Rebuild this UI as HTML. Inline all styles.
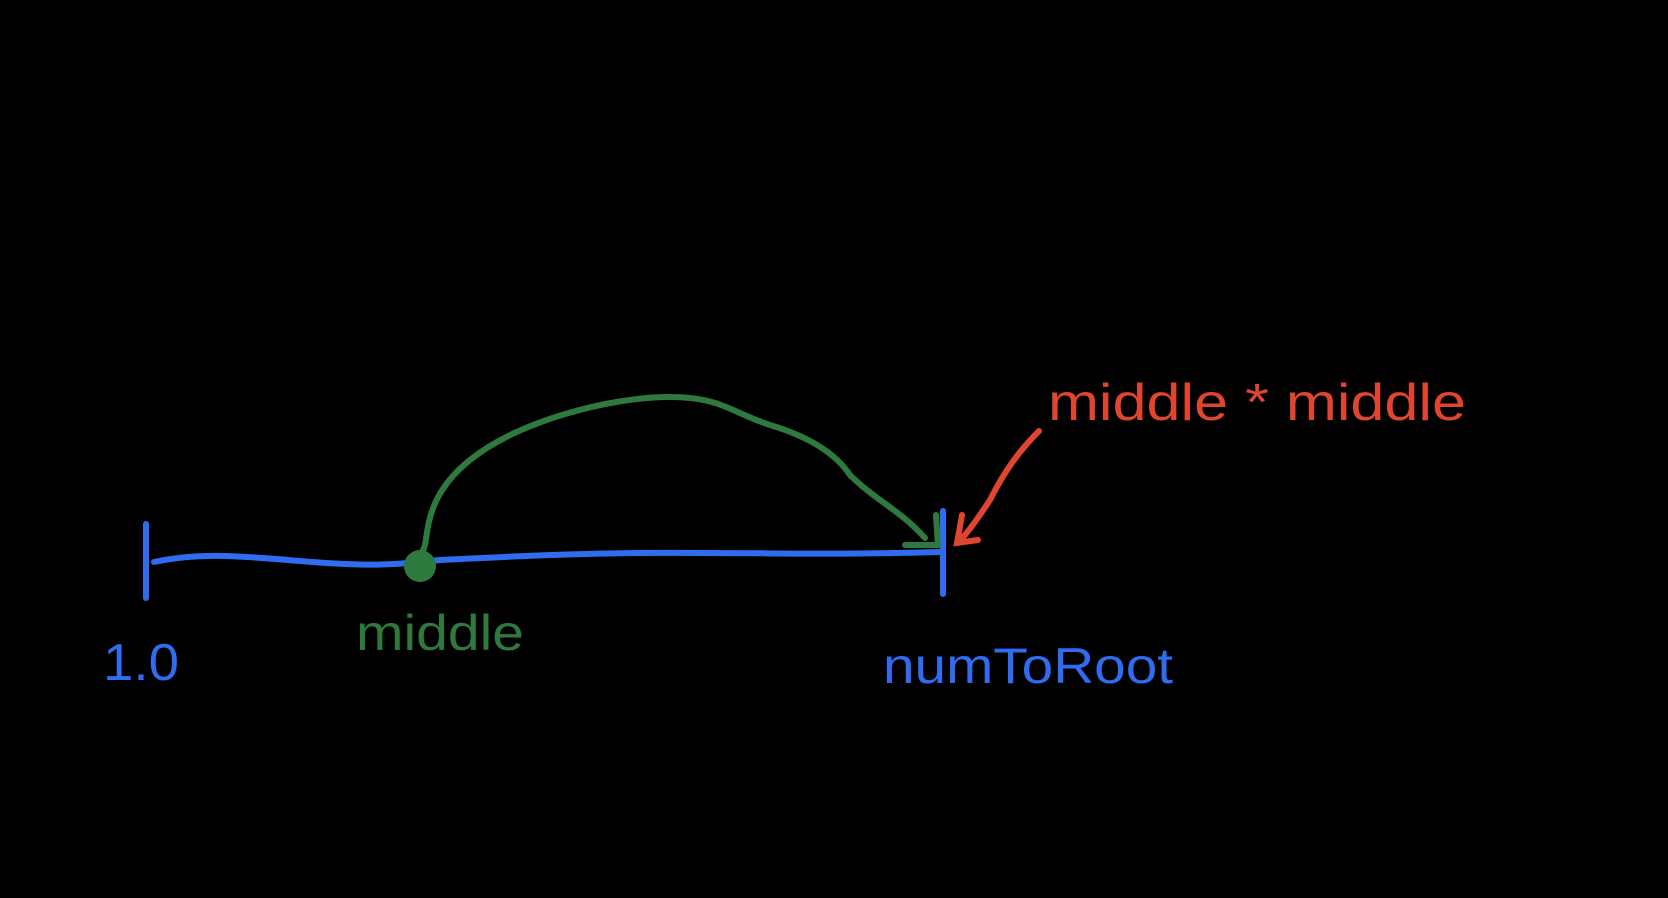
<!DOCTYPE html>
<html><head><meta charset="utf-8"><style>
html,body{margin:0;padding:0;background:#000;}
svg{display:block;}
text{font-family:"Liberation Sans",sans-serif;}
</style></head><body>
<svg width="1668" height="898" viewBox="0 0 1668 898">
<rect width="1668" height="898" fill="#000"/>
<g stroke="#2f6cf0" stroke-width="6" fill="none" stroke-linecap="round">
<path d="M146 524 L146 598"/>
<path d="M154 562 C200 552 240 556 300 561 C360 566 390 566 440 560 C520 556 600 552 700 553 C780 553 840 555 940 552"/>
<path d="M943 511 L943 594"/>
</g>
<path d="M423 550 C430 540 420 500 470 460 C520 420 610 398 665 397 C720 396 730 412 770 425 C820 440 840 460 850 475 C875 500 900 510 925 538" stroke="#2e7a3e" stroke-width="6" fill="none" stroke-linecap="round"/>
<path d="M936 515 L938 545 L905 545" stroke="#2e7a3e" stroke-width="6" fill="none" stroke-linecap="round"/>
<circle cx="420" cy="566" r="16" fill="#2e7a3e"/>
<path d="M1039 431 C1020 450 1005 470 990 500 C980 515 970 530 958 543" stroke="#e0452f" stroke-width="6" fill="none" stroke-linecap="round"/>
<path d="M962 515 L957 543 L978 540" stroke="#e0452f" stroke-width="6" fill="none" stroke-linecap="round"/>
<text x="103" y="680" font-size="52" fill="#2f6cf0" textLength="76" lengthAdjust="spacingAndGlyphs">1.0</text>
<text x="356" y="650" font-size="50" fill="#2e7a3e" textLength="168" lengthAdjust="spacingAndGlyphs">middle</text>
<text x="883" y="683" font-size="50" fill="#2f6cf0" textLength="290" lengthAdjust="spacingAndGlyphs">numToRoot</text>
<text x="1048" y="420" font-size="52" fill="#e0452f" textLength="418" lengthAdjust="spacingAndGlyphs">middle * middle</text>
</svg>
</body></html>
